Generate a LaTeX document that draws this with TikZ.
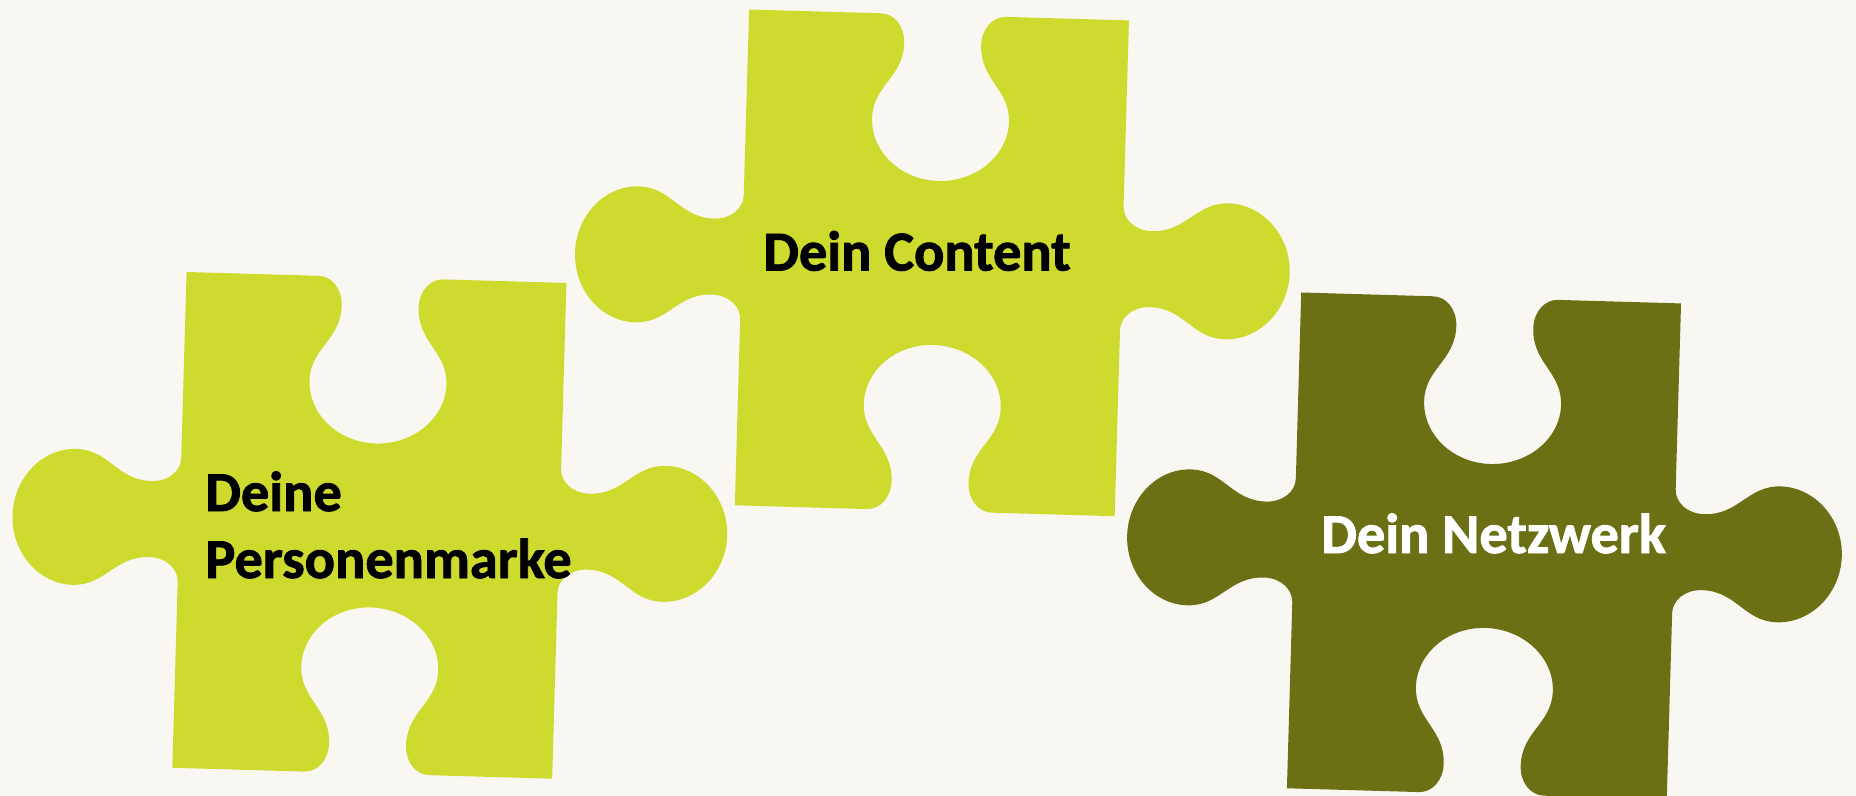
\documentclass[tikz,border=0pt]{standalone}
\usepackage{fontspec}
\setmainfont{Carlito}[BoldFeatures={FakeBold=1.5}]
\definecolor{bgcol}{RGB}{249,247,241}
\definecolor{limegreen}{RGB}{206,218,46}
\definecolor{olivegreen}{RGB}{107,112,21}
\tikzset{
  piece/.style={insert path={
    (0,0) -- (132,0)
    .. controls (145,0) and (156,12) .. (156,29)
    .. controls (156,64) and (126,72) .. (126,105)
    .. controls (126,138.7) and (156.5,166) .. (194,166)
    .. controls (231.5,166) and (263,138.7) .. (263,105)
    .. controls (263,72) and (233,64) .. (233,29)
    .. controls (233,12) and (244,0) .. (257,0)
    -- (380,0) -- (380,186)
    .. controls (380,199) and (392,210) .. (409,210)
    .. controls (444,210) and (452,180) .. (485,180)
    .. controls (519,180) and (548,210.5) .. (548,248)
    .. controls (548,285.5) and (519,316) .. (485,316)
    .. controls (452,316) and (444,286) .. (409,286)
    .. controls (392,286) and (380,297) .. (380,310)
    -- (380,496) -- (257,496)
    .. controls (244,496) and (233,484) .. (233,467)
    .. controls (233,432) and (263,424) .. (263,391)
    .. controls (263,357.3) and (231.5,330) .. (194,330)
    .. controls (156.5,330) and (126,357.3) .. (126,391)
    .. controls (126,424) and (156,432) .. (156,467)
    .. controls (156,484) and (145,496) .. (132,496)
    -- (0,496) -- (0,310)
    .. controls (0,297) and (-12,286) .. (-29,286)
    .. controls (-64,286) and (-72,316) .. (-105,316)
    .. controls (-139,316) and (-167,285.5) .. (-167,248)
    .. controls (-167,210.5) and (-139,180) .. (-105,180)
    .. controls (-72,180) and (-64,210) .. (-29,210)
    .. controls (-12,210) and (0,199) .. (0,186)
    -- cycle}},
  txt/.style={inner sep=0pt, anchor=base west, font=\bfseries\fontsize{28.2}{33.5}\selectfont}
}
\begin{document}
\begin{tikzpicture}[x=0.5pt,y=-0.5pt]
\fill[bgcol] (0,0) rectangle (1856,796);
\useasboundingbox (0,0) rectangle (1856,796);
\begin{scope}[shift={(186.6,272)},rotate=-1.65]
  \fill[limegreen] [piece];
\end{scope}
\begin{scope}[shift={(749.1,9.5)},rotate=-1.65]
  \fill[limegreen] [piece];
\end{scope}
\begin{scope}[shift={(1301.2,292.5)},rotate=-1.65]
  \fill[olivegreen] [piece];
\end{scope}
\node[txt, align=left, text=black] (marke) at (205,578) {Deine\\Personenmarke};
\node[txt, text=black] (content) at (763,270.5) {Dein Content};
\node[txt, text=white] (netz) at (1321,553) {Dein Netzwerk};
\end{tikzpicture}
\end{document}
